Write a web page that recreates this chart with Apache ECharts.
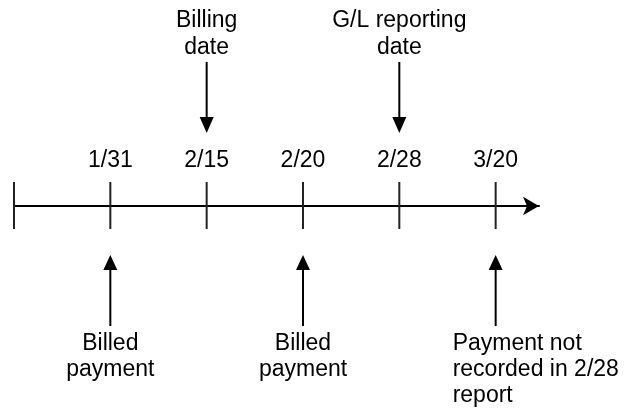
<!DOCTYPE html>
<html>
<head>
<meta charset="utf-8">
<script src="https://cdn.jsdelivr.net/npm/echarts@6/dist/echarts.min.js"></script>
<style>
html,body{margin:0;padding:0;background:#fff;}
#chart{width:628px;height:414px;}
</style>
</head>
<body>
<div id="chart"></div>
<script>
// ---- data ----
const ticks = ['', '1/31', '2/15', '2/20', '2/28', '3/20'];
const topNoteDates = ['2/15', '2/28'];
const topNoteTexts = ['Billing\ndate', 'G/L reporting\ndate'];
const bottomNoteDates = ['1/31', '2/20', '3/20'];
const bottomNoteTexts = ['Billed\npayment', 'Billed\npayment', 'Payment not\nrecorded in 2/28\nreport'];
const bottomNoteAlign = ['center', 'center', 'left'];

// ---- chart ----
const FONT = '23px "Liberation Sans", Arial, sans-serif';
const chart = echarts.init(document.getElementById('chart'), null, {renderer: 'canvas'});

function tickRender(params, api) {
  const p = api.coord([api.value(0), 0]);
  return {
    type: 'line',
    shape: {x1: p[0], y1: p[1] - 24, x2: p[0], y2: p[1] + 23},
    style: {stroke: '#222', lineWidth: 2}
  };
}

function topRender(params, api) {
  const p = api.coord([api.value(0), 0]);
  const x = p[0], y0 = p[1];
  return {
    type: 'group',
    children: [
      {type: 'text', style: {text: topNoteTexts[params.dataIndex], x: x, y: y0 - 199,
        fill: '#000', font: FONT, align: 'center', verticalAlign: 'top', lineHeight: 27}},
      {type: 'line', shape: {x1: x, y1: y0 - 144, x2: x, y2: y0 - 86},
        style: {stroke: '#000', lineWidth: 2}},
      {type: 'polygon', shape: {points: [[x - 7, y0 - 89], [x + 7, y0 - 89], [x, y0 - 73]]},
        style: {fill: '#000'}}
    ]
  };
}

function bottomRender(params, api) {
  const p = api.coord([api.value(0), 0]);
  const x = p[0], y0 = p[1];
  const align = bottomNoteAlign[params.dataIndex];
  const tx = align === 'left' ? x - 43 : x;
  return {
    type: 'group',
    children: [
      {type: 'text', style: {text: bottomNoteTexts[params.dataIndex], x: tx, y: y0 + 125,
        fill: '#000', font: FONT, align: align, verticalAlign: 'top', lineHeight: 26}},
      {type: 'line', shape: {x1: x, y1: y0 + 62, x2: x, y2: y0 + 120},
        style: {stroke: '#000', lineWidth: 2}},
      {type: 'polygon', shape: {points: [[x - 7, y0 + 64], [x + 7, y0 + 64], [x, y0 + 49]]},
        style: {fill: '#000'}}
    ]
  };
}

chart.setOption({
  animation: false,
  backgroundColor: '#fff',
  grid: {left: 14, right: 89, top: 206, bottom: 0, containLabel: false, outerBoundsMode: 'none'},
  xAxis: {
    type: 'value', min: 0, max: 5.45, position: 'top',
    axisLine: {show: true, onZero: false, symbol: ['none', 'arrow'], symbolSize: [14, 16],
      lineStyle: {color: '#000', width: 2}},
    axisTick: {show: false},
    splitLine: {show: false},
    axisLabel: {
      customValues: [1, 2, 3, 4, 5],
      formatter: v => ticks[Math.round(v)],
      margin: 34, color: '#000', fontSize: 23,
      fontFamily: '"Liberation Sans", Arial, sans-serif'
    }
  },
  yAxis: {type: 'value', min: -208, max: 0, show: false},
  series: [
    {type: 'custom', renderItem: tickRender, data: ticks.map((t, i) => [i]), silent: true, clip: false},
    {type: 'custom', renderItem: topRender, data: topNoteDates.map(d => [ticks.indexOf(d)]), silent: true, clip: false},
    {type: 'custom', renderItem: bottomRender, data: bottomNoteDates.map(d => [ticks.indexOf(d)]), silent: true, clip: false}
  ]
});
</script>
</body>
</html>
